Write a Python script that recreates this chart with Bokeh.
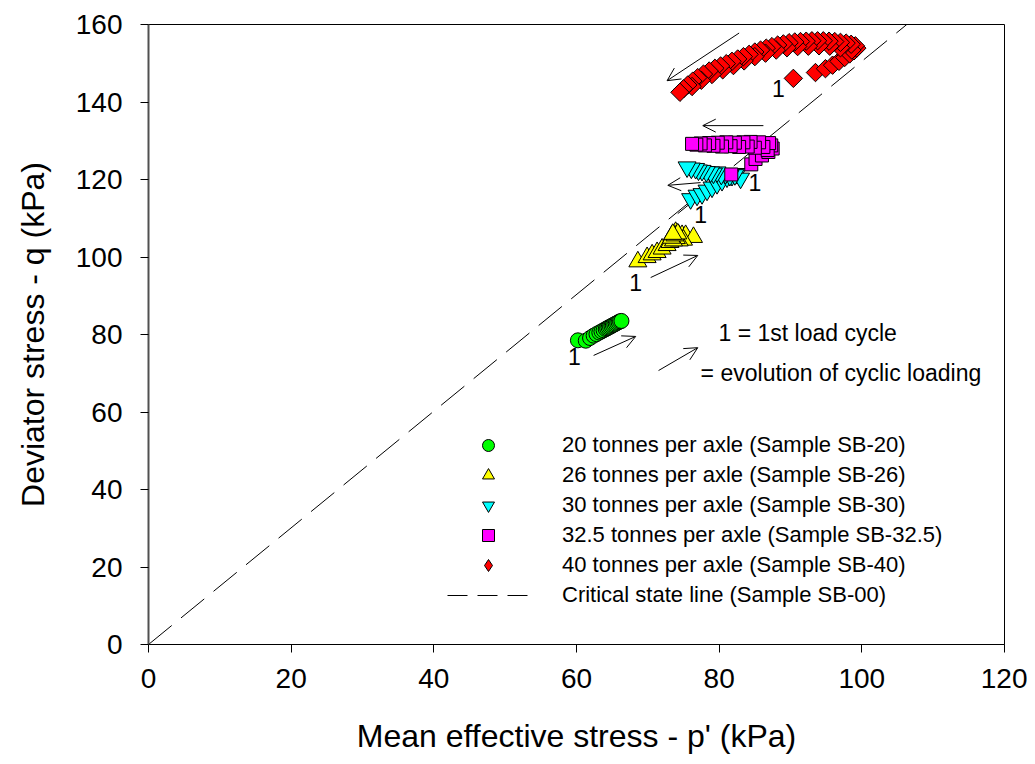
from bokeh.plotting import figure
from bokeh.models import Range1d, FixedTicker, Legend, LegendItem, Label, Arrow, OpenHead
from bokeh.embed import file_html
from bokeh.resources import INLINE
import math

FONT = "Liberation Sans"

# ---- data (p' in kPa, q in kPa) ----
sb20_p = [60.2, 61.3, 61.9, 62.4, 62.8, 63.2, 63.5, 63.8, 64.1, 64.3, 64.5, 64.7, 64.9, 65.1, 65.3, 65.5, 65.7, 65.9, 66.1, 66.3]
sb20_q = [78.5, 78.4, 79.1, 79.7, 80.1, 80.5, 80.8, 81.1, 81.4, 81.6, 81.8, 82.0, 82.2, 82.4, 82.6, 82.8, 83.0, 83.2, 83.4, 83.5]

sb26_p = [68.6, 69.9, 70.6, 71.3, 72.0, 72.7, 73.1, 73.4, 73.9, 74.3, 74.8, 75.3, 76.4, 75.0, 74.4, 74.0, 73.6, 73.3, 73.8, 74.2, 73.5]
sb26_q = [98.8, 99.9, 100.6, 101.2, 102.1, 103.0, 103.8, 105.6, 106.4, 105.8, 105.6, 105.6, 105.1, 104.4, 104.2, 104.8, 104.2, 104.9, 105.5, 106.0, 105.9]

sb30_p = [76.0, 76.9, 77.6, 78.3, 79.0, 79.7, 80.4, 81.1, 81.8, 82.5, 83.0, 82.2, 81.5, 80.9, 80.3, 79.7, 79.2, 78.8, 78.2, 77.6, 77.1, 76.7, 76.1, 75.5]
sb30_q = [115.0, 115.9, 116.3, 117.2, 118.0, 118.9, 119.7, 120.6, 121.0, 121.5, 120.3, 121.2, 121.0, 121.5, 121.3, 121.9, 121.6, 121.9, 122.0, 122.3, 122.4, 122.8, 122.9, 123.2]

sb325_p = [81.7, 84.5, 85.1, 86.0, 86.9, 87.5, 87.3, 86.8, 87.0, 86.2, 85.6, 85.0, 84.4, 84.0, 83.4, 82.8, 82.2, 81.6, 81.0, 80.4, 79.8, 79.2, 78.6, 78.0, 77.4, 76.8, 76.2]
sb325_q = [121.3, 123.9, 125.3, 126.2, 127.1, 128.0, 128.8, 127.6, 129.4, 128.4, 129.6, 128.2, 129.7, 128.5, 129.6, 128.4, 129.5, 128.6, 129.6, 128.5, 129.5, 128.7, 129.4, 128.8, 129.3, 129.0, 129.2]

sb40_p = [90.4, 93.5, 94.9, 95.9, 96.8, 97.6, 98.3, 98.9, 99.3,
          99.1, 98.6, 98.5, 97.8, 97.0, 97.0, 96.2, 95.5, 95.4, 94.6, 94.0, 93.8, 93.0, 92.5, 92.2,
          91.4, 91.0, 90.6, 89.8, 89.5, 89.0, 88.2, 88.0, 87.4, 86.6, 86.5, 85.8, 85.0, 85.0, 84.2,
          83.5, 83.4, 82.6, 82.0, 81.8, 81.0, 80.5, 80.2, 79.4, 79.0, 78.6, 77.8, 77.5, 77.0, 76.3,
          76.2, 75.6, 75.0, 74.5]
sb40_q = [146.1, 147.6, 148.6, 149.5, 150.5, 151.5, 152.4, 153.2, 153.9,
          154.5, 153.4, 154.9, 155.2, 154.0, 155.4, 155.6, 154.4, 155.7, 155.8, 154.5, 155.8, 155.8, 154.4, 155.7,
          155.6, 154.3, 155.5, 155.3, 154.0, 155.0, 154.7, 153.4, 154.3, 153.9, 152.6, 153.4, 152.9, 151.7, 152.3,
          150.6, 151.7, 151.1, 149.4, 150.5, 149.9, 148.3, 149.3, 148.7, 147.1, 148.0, 147.2, 145.6, 146.3, 145.4,
          144.0, 144.4, 143.4, 142.5]

csl_p = [0, 106.3]
csl_q = [0, 160]

series_labels = ["20 tonnes per axle (Sample SB-20)",
                 "26 tonnes per axle (Sample SB-26)",
                 "30 tonnes per axle (Sample SB-30)",
                 "32.5 tonnes per axle (Sample SB-32.5)",
                 "40 tonnes per axle (Sample SB-40)",
                 "Critical state line (Sample SB-00)"]

x_ticks = [0, 20, 40, 60, 80, 100, 120]
y_ticks = [0, 20, 40, 60, 80, 100, 120, 140, 160]

p = figure(width=1027, height=762, x_range=Range1d(0, 120), y_range=Range1d(0, 160),
           output_backend="svg", toolbar_location=None,
           min_border_left=148, min_border_right=23, min_border_top=24, min_border_bottom=118)

p.grid.visible = False
p.outline_line_color = "black"
p.outline_line_width = 1
p.background_fill_color = "white"
p.border_fill_color = "white"

for ax in (p.xaxis[0], p.yaxis[0]):
    ax.major_tick_out = 8
    ax.major_tick_in = 0
    ax.minor_tick_out = 0
    ax.minor_tick_in = 0
    ax.axis_line_color = "black"
    ax.major_tick_line_color = "black"
    ax.major_label_text_font = FONT
    ax.major_label_text_font_size = "28px"
    ax.major_label_text_color = "black"
    ax.axis_label_text_font = FONT
    ax.axis_label_text_font_size = "32px"
    ax.axis_label_text_font_style = "normal"
    ax.axis_label_text_color = "black"

p.xaxis.ticker = FixedTicker(ticks=x_ticks)
p.yaxis.ticker = FixedTicker(ticks=y_ticks)
p.xaxis.axis_label = "Mean effective stress - p' (kPa)"
p.yaxis.axis_label = "Deviator stress - q (kPa)"
p.xaxis.major_label_standoff = 16
p.yaxis.major_label_standoff = 18
p.xaxis.axis_label_standoff = 27
p.yaxis.axis_label_standoff = 22
p.yaxis.axis_line_color = "#505050"
p.yaxis.axis_line_width = 2

# arrows (under markers)
def arrow(x0, y0, x1, y1):
    p.add_layout(Arrow(x_start=x0, y_start=y0, x_end=x1, y_end=y1, line_width=1, line_color="black",
                       end=OpenHead(size=13, line_width=1, line_color="black"), level="underlay"))

arrow(62.4, 74.6, 68.3, 79.5)
arrow(70.4, 94.7, 77.0, 100.4)
arrow(74.2, 111.2, 79.1, 118.5)
arrow(77.4, 119.2, 72.8, 118.5)
arrow(86.2, 133.9, 77.7, 133.9)
arrow(82.8, 157.8, 72.7, 145.5)
arrow(71.5, 70.7, 77.0, 76.6)

r_csl = p.line(csl_p, csl_q, line_color="black", line_width=1, line_dash="30 12")
r_csl_leg = p.line([float("nan")], [float("nan")], line_color="black", line_width=1, line_dash="20 10")

r20 = p.scatter(sb20_p, sb20_q, marker="circle", size=15, fill_color="#00FF00", line_color="black", line_width=1)
r26 = p.scatter(sb26_p, sb26_q, marker="triangle", size=18, fill_color="#FFFF00", line_color="black", line_width=1)
r30 = p.scatter(sb30_p, sb30_q, marker="inverted_triangle", size=18, fill_color="#00FFFF", line_color="black", line_width=1)
r325 = p.scatter(sb325_p, sb325_q, marker="square", size=13, fill_color="#FF00FF", line_color="black", line_width=1)
r40 = p.scatter(sb40_p, sb40_q, marker="square", size=13, angle=math.pi / 4, fill_color="#FF0000", line_color="black", line_width=1)
r40_leg = p.scatter([float("nan")], [float("nan")], marker="diamond", size=13, fill_color="#FF0000", line_color="black", line_width=1)

legend = Legend(items=[LegendItem(label=series_labels[0], renderers=[r20]),
                       LegendItem(label=series_labels[1], renderers=[r26]),
                       LegendItem(label=series_labels[2], renderers=[r30]),
                       LegendItem(label=series_labels[3], renderers=[r325]),
                       LegendItem(label=series_labels[4], renderers=[r40_leg]),
                       LegendItem(label=series_labels[5], renderers=[r_csl_leg])],
                location=(299, 34), glyph_width=82, glyph_height=30, label_height=30,
                spacing=0, padding=0, margin=0, label_standoff=33,
                border_line_color=None, background_fill_alpha=0,
                label_text_font=FONT, label_text_font_size="22px", label_text_color="black")
p.add_layout(legend)

def lab(x, y, t, align="center", baseline="middle", size="23px"):
    p.add_layout(Label(x=x, y=y, text=t, text_font=FONT, text_font_size=size, text_color="black",
                       text_align=align, text_baseline=baseline))

lab(59.7, 74.2, "1")
lab(68.3, 93.5, "1")
lab(77.4, 111.0, "1")
lab(85.0, 119.3, "1")
lab(88.3, 143.4, "1")
lab(79.9, 80.5, "1 = 1st load cycle", align="left", baseline="alphabetic")
lab(77.4, 70.0, "= evolution of cyclic loading", align="left", baseline="alphabetic")

open("out.html", "w").write(file_html(p, INLINE))
